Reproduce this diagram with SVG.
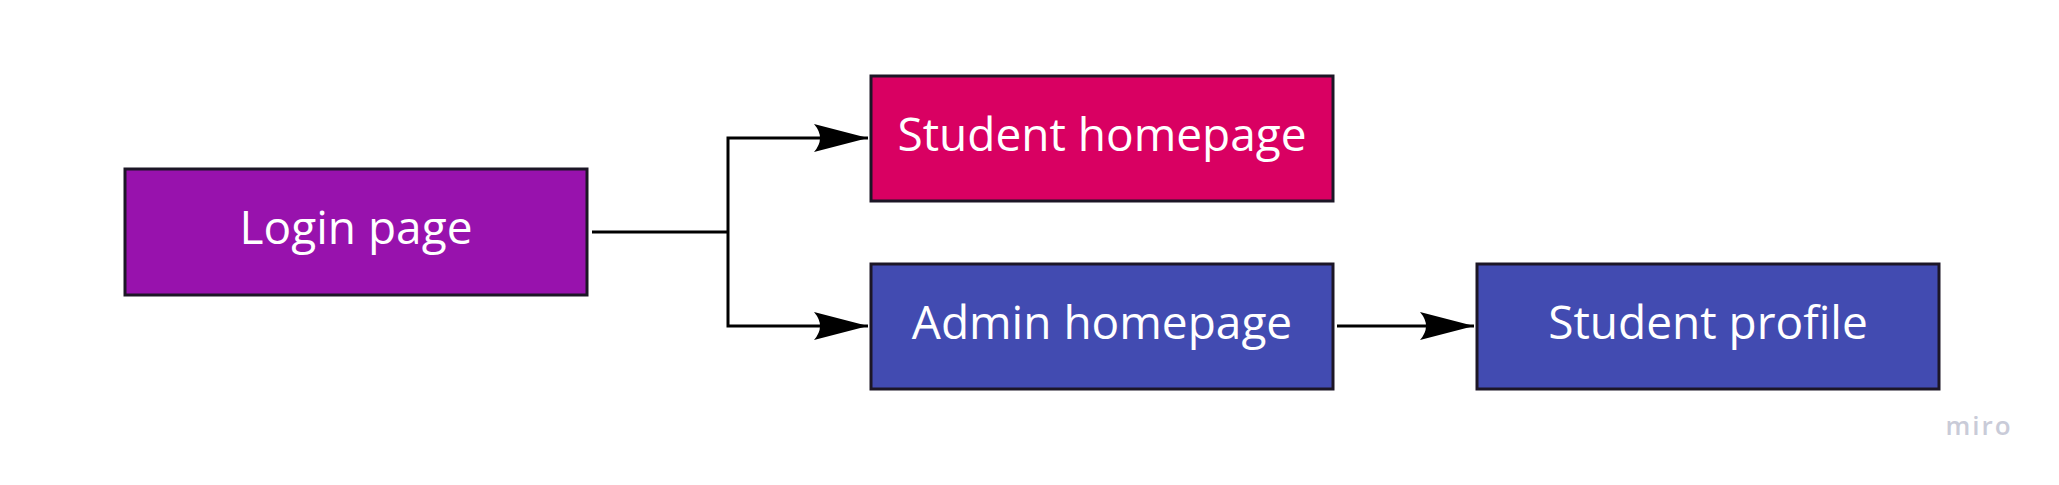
<svg xmlns="http://www.w3.org/2000/svg" width="2059" height="485" viewBox="0 0 2059 485">
<style>
.box{stroke:#1c1626;stroke-width:3}
.lbl{font-family:"Open Sans","Noto Sans",sans-serif;font-size:46px;fill:#ffffff;text-anchor:middle;dominant-baseline:central}
.conn{fill:none;stroke:#000;stroke-width:3}
</style>
<defs>
<marker id="arr" markerWidth="56" markerHeight="30" refX="54" refY="14" orient="auto" markerUnits="userSpaceOnUse">
<path d="M0,0 L54,14 L0,28 Q12,14 0,0 Z" fill="#000"/>
</marker>
</defs>
<rect width="2059" height="485" fill="#fff"/>
<g id="login">
<rect class="box" x="125" y="169" width="462" height="126" fill="#9812ad"/>
<text class="lbl" x="356" y="226">Login page</text>
</g>
<g id="student-home">
<rect class="box" x="871" y="76" width="462" height="125" fill="#d90062"/>
<text class="lbl" x="1102" y="133">Student homepage</text>
</g>
<g id="admin-home">
<rect class="box" x="871" y="264" width="462" height="125" fill="#424bb1"/>
<text class="lbl" x="1102" y="321">Admin homepage</text>
</g>
<g id="student-profile">
<rect class="box" x="1477" y="264" width="462" height="125" fill="#424bb1"/>
<text class="lbl" x="1708" y="321">Student profile</text>
</g>
<g id="connectors">
<path class="conn" d="M592,232 H728"/>
<path class="conn" d="M728,232 V138 H868" marker-end="url(#arr)"/>
<path class="conn" d="M728,232 V326 H868" marker-end="url(#arr)"/>
<path class="conn" d="M1337,326 H1474" marker-end="url(#arr)"/>
</g>
<text x="1979" y="435" font-family="Open Sans, sans-serif" font-size="26" font-weight="600" fill="#c9cbd8" text-anchor="middle" letter-spacing="2">miro</text>
</svg>
